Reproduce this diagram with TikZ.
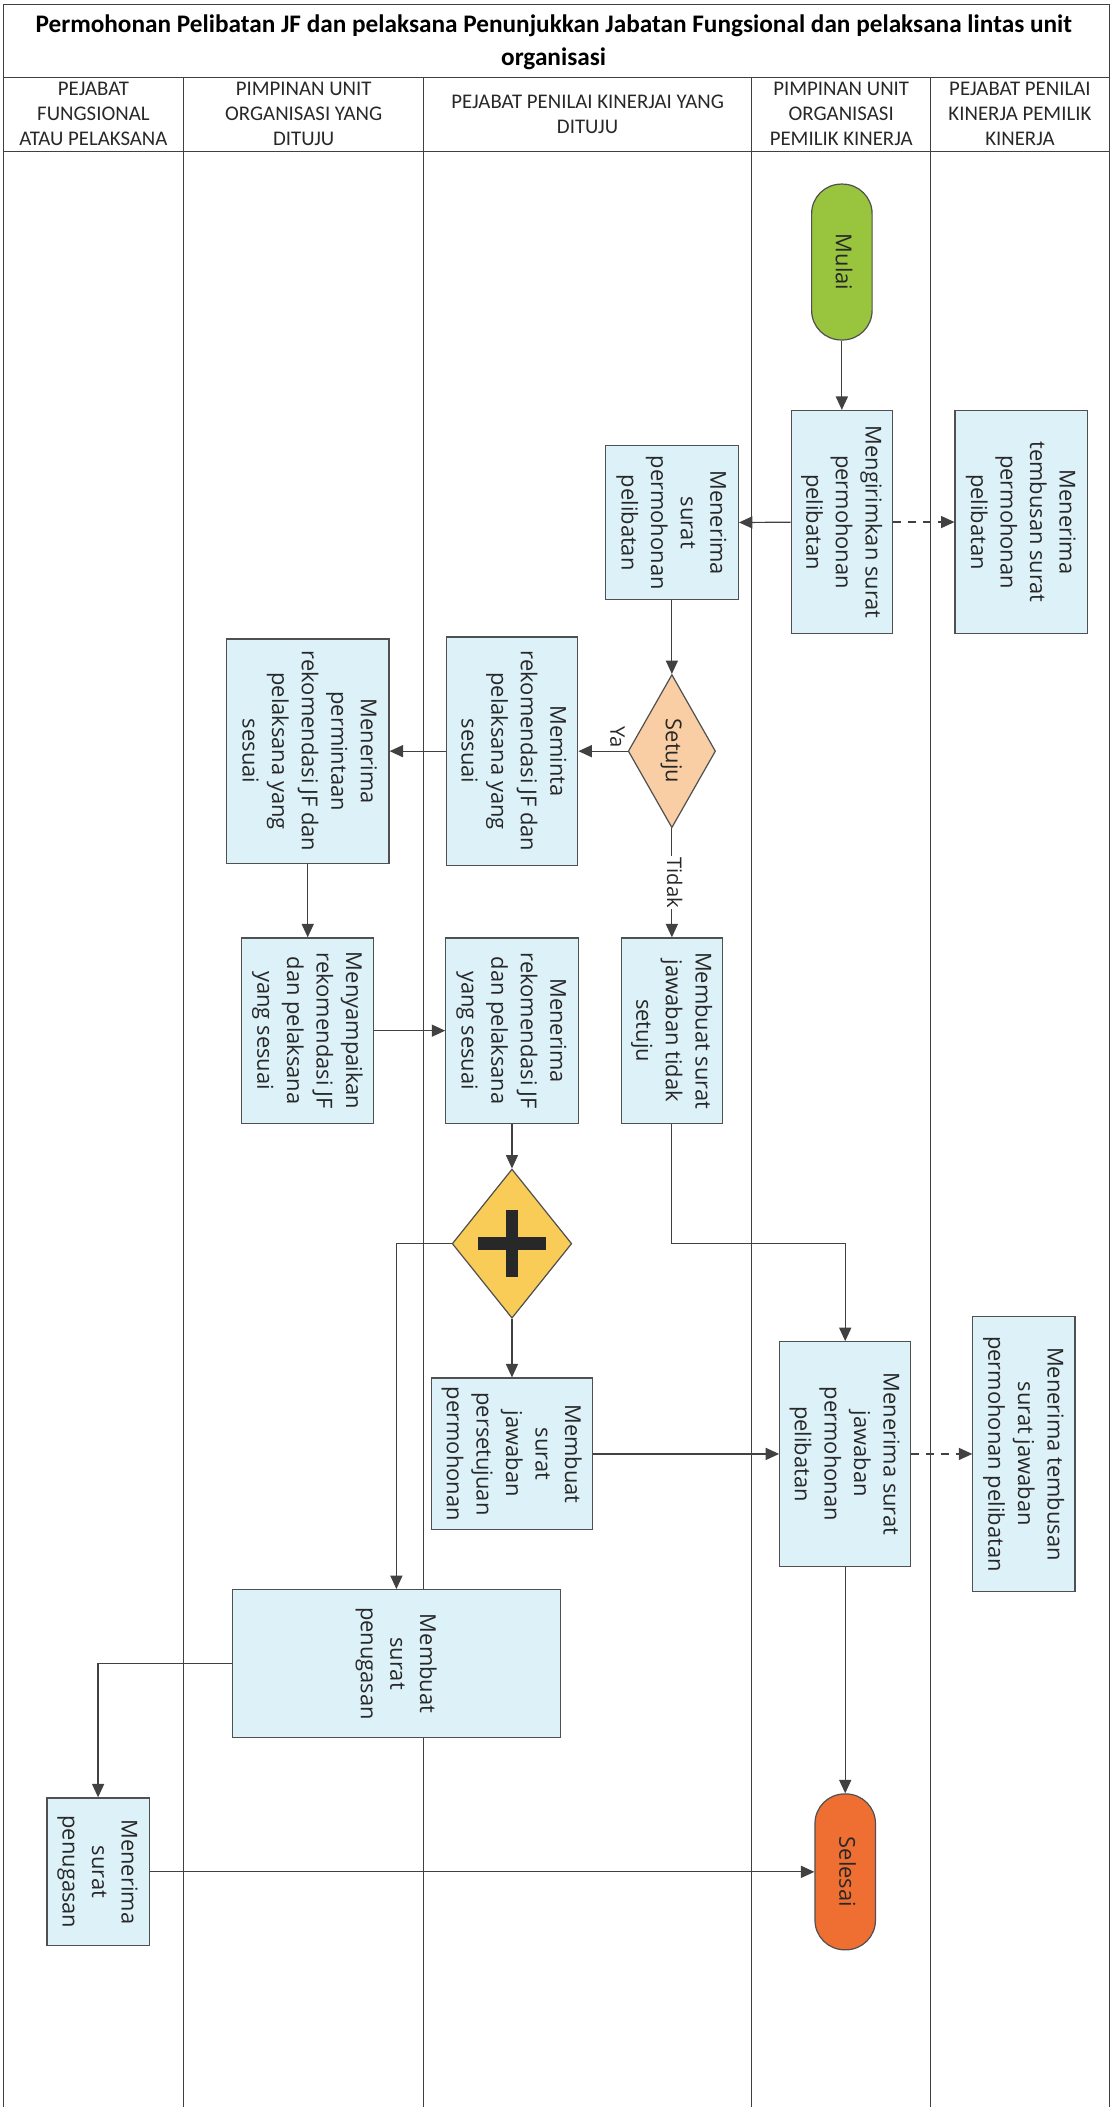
\documentclass[tikz,border=0pt]{standalone}
\usepackage{fontspec}
\setmainfont{Carlito}
\newfontfamily\boxfont{Open Sans}
\usepackage{graphicx}
\usetikzlibrary{shapes.geometric,arrows.meta}

\definecolor{boxFill}{RGB}{221,241,248}
\definecolor{boxLine}{RGB}{80,80,80}
\definecolor{lineGray}{RGB}{65,65,65}
\definecolor{textGray}{RGB}{40,40,40}
\definecolor{startGreen}{RGB}{152,196,62}
\definecolor{endOrange}{RGB}{239,110,50}
\definecolor{askPeach}{RGB}{249,206,164}
\definecolor{gateYellow}{RGB}{249,204,88}

% rotated multi-line text, read from top to bottom
\newcommand{\vtext}[1]{\rotatebox{-90}{\begin{tabular}{@{}c@{}}#1\end{tabular}}}

\begin{document}
\begin{tikzpicture}
[x=1pt,y=-1pt,%
  darkArrow/.style={-{Triangle[length=10pt,width=9pt]},line width=0.9pt,draw=lineGray},%
  dashArrow/.style={darkArrow,dash pattern=on 6pt off 5pt},%
  laneLine/.style={line width=0.8pt,draw=lineGray},%
  headText/.style={align=center,text=textGray,font=\fontsize{15.5}{18.6}\selectfont},%
  edgeText/.style={inner sep=1pt,text=textGray,font=\boxfont\fontsize{15}{18}\selectfont},%
  procBox/.style={shape=rectangle,draw=boxLine,line width=0.9pt,fill=boxFill,inner sep=0pt,text=textGray,font=\boxfont\fontsize{16.3}{22}\selectfont},%
  termDecorate/.style={procBox,rounded corners=22pt,minimum width=45,minimum height=116},%
  askDecorate/.style={procBox,shape=diamond,shape aspect=0.57,fill=askPeach}]
\useasboundingbox (0,0) rectangle (830,1568);
%% frame, title row and lanes
\draw[laneLine] (2.5,1568) -- (2.5,3.5) -- (825.5,3.5) -- (825.5,1568);
\draw[laneLine] (2.5,57.5) -- (825.5,57.5) (2.5,112.5) -- (825.5,112.5);
\foreach \x in {136.8,315,559.5,692.5}
{
  \draw[laneLine] (\x,57.5) -- (\x,1568);
}
\node (title) at (412,31.5) [align=center,text=black,font=\bfseries\fontsize{18.8}{25}\selectfont]
  {Permohonan Pelibatan JF dan pelaksana Penunjukkan Jabatan Fungsional dan pelaksana lintas unit\\organisasi};
\foreach \nodename/\x/\txt in {hdFungsional/69.5/{PEJABAT\\FUNGSIONAL\\ATAU PELAKSANA},
  hdUnitTuju/226/{PIMPINAN UNIT\\ORGANISASI YANG\\DITUJU},
  hdPenilaiTuju/437.25/{PEJABAT PENILAI KINERJAI YANG\\DITUJU},
  hdUnitPemilik/626/{PIMPINAN UNIT\\ORGANISASI\\PEMILIK KINERJA},
  hdPenilaiPemilik/759/{PEJABAT PENILAI\\KINERJA PEMILIK\\KINERJA}}
{
  \node (\nodename) at (\x,85) [headText] {\txt};
}
%% start, end and gateways
\node (mulai) at (626.5,195) [termDecorate,fill=startGreen] {\vtext{Mulai}};
\node (selesai) at (629,1393) [termDecorate,fill=endOrange] {\vtext{Selesai}};
\node (setuju) at (500,559) [askDecorate,minimum width=65,minimum height=114] {\vtext{Setuju}};
\node (gate) at (381,925.5) [askDecorate,fill=gateYellow,minimum width=89,minimum height=111] {};
\draw[line width=9.6pt,draw=textGray] (gate.center) ++(0,-25) -- ++(0,50) (gate.center) ++(-25.5,0) -- ++(51,0);
%% process boxes
\foreach \nodename/\x/\y/\w/\h/\txt in {
  kirim/626.5/388.5/75.5/166/{Mengirimkan surat\\permohonan\\pelibatan},
  terimaMohon/500/389/99/114.5/{Menerima\\surat\\permohonan\\pelibatan},
  tembusMohon/760/388.5/98.5/166/{Menerima\\tembusan surat\\permohonan\\pelibatan},
  minta/381/559/98/170/{Meminta\\rekomendasi JF dan\\pelaksana yang\\sesuai},
  terimaMinta/229/559/121/167/{Menerima\\permintaan\\rekomendasi JF dan\\pelaksana yang\\sesuai},
  tolak/500/767/75.5/138/{Membuat surat\\jawaban tidak\\setuju},
  sampaikan/229/767/98/138/{Menyampaikan\\rekomendasi JF\\dan pelaksana\\yang sesuai},
  terimaRekom/381/767/98.5/138/{Menerima\\rekomendasi JF\\dan pelaksana\\yang sesuai},
  setujui/381/1082/120/113/{Membuat\\surat\\jawaban\\persetujuan\\permohonan},
  terimaJawab/629/1082/97.5/167/{Menerima surat\\jawaban\\permohonan\\pelibatan},
  tembusJawab/762/1082/76/205/{Menerima tembusan\\surat jawaban\\permohonan pelibatan},
  tugaskan/295/1238/244/110/{Membuat\\surat\\penugasan},
  terimaTugas/73/1393/76/110/{Menerima\\surat\\penugasan}}
{
  \node (\nodename) at (\x,\y) [procBox,minimum width=\w,minimum height=\h] {\vtext{\txt}};
}
%% solid connectors
\foreach \startnode/\endnode in {mulai/kirim, kirim/terimaMohon, terimaMohon/setuju,
  minta/terimaMinta, terimaMinta/sampaikan, sampaikan/terimaRekom, terimaRekom/gate,
  gate/setujui, setujui/terimaJawab, terimaJawab/selesai, terimaTugas/selesai}
{
  \draw[darkArrow] (\startnode) -- (\endnode);
}
\draw[darkArrow] (setuju) -- node[edgeText,pos=0.25,above=1pt] {\vtext{Ya}} (minta);
\draw[darkArrow] (setuju) -- node[edgeText,fill=white] {\vtext{Tidak}} (tolak);
\draw[darkArrow] (gate.west) -| (tugaskan.north);
\draw[darkArrow] (tolak.south) |- (gate.east -| terimaJawab.north) -- (terimaJawab.north);
\draw[darkArrow] (tugaskan.west) -| (terimaTugas.north);
%% dashed connectors
\foreach \startnode/\endnode in {kirim/tembusMohon, terimaJawab/tembusJawab}
{
  \draw[dashArrow] (\startnode) -- (\endnode);
}
\end{tikzpicture}
\end{document}
